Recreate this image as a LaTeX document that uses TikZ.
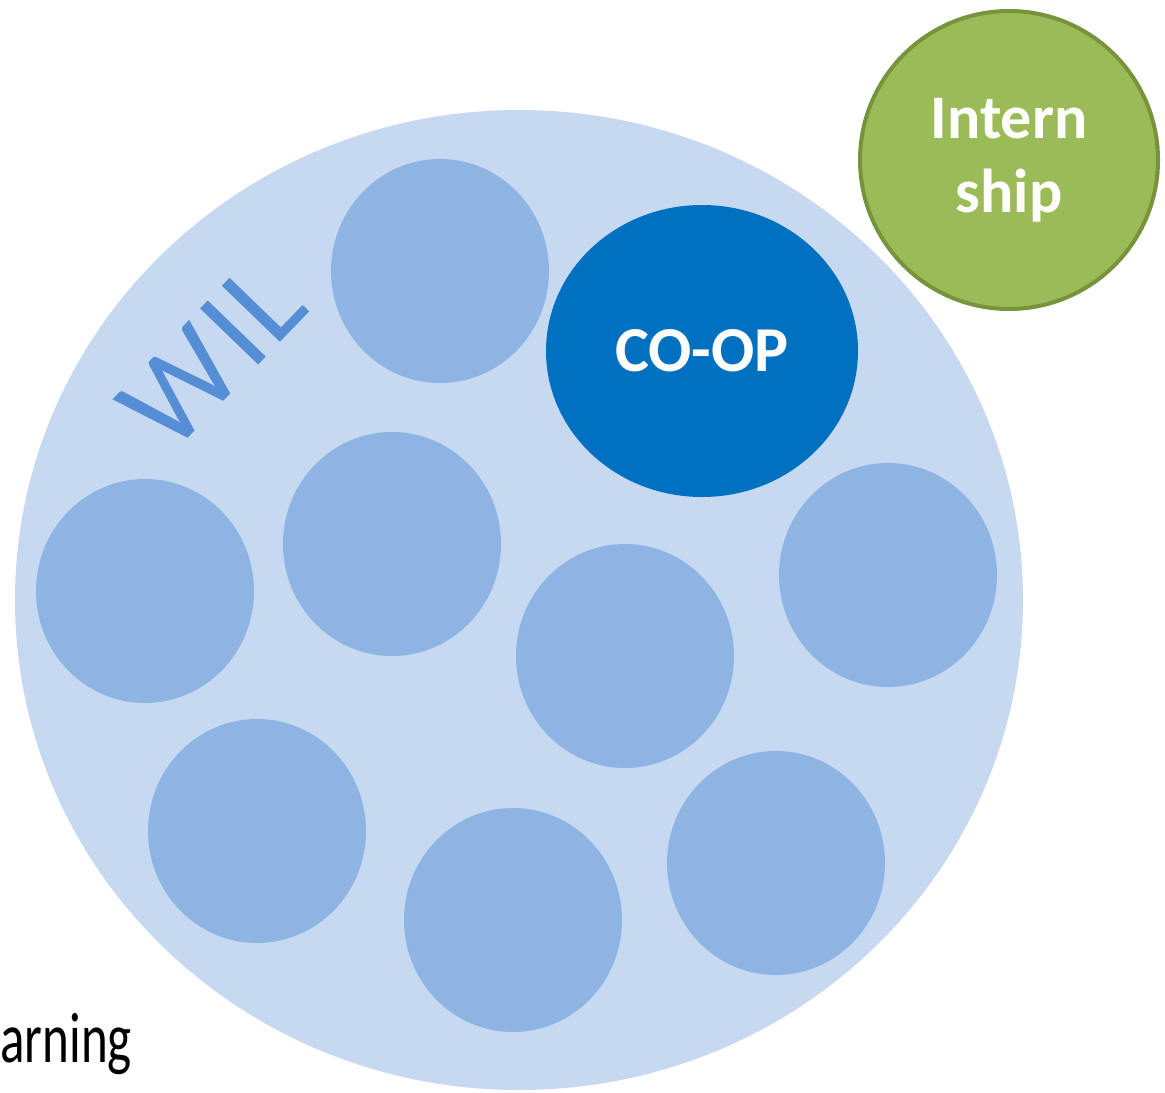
\documentclass[tikz,border=0pt]{standalone}
\usepackage{fontspec}
\setmainfont{Carlito}
\usetikzlibrary{shapes.geometric}
\definecolor{wilback}{HTML}{C6D9F1}
\definecolor{bubblefill}{HTML}{8EB4E3}
\definecolor{coopblue}{HTML}{0070C0}
\definecolor{interngreen}{HTML}{9BBB59}
\definecolor{interndark}{HTML}{77933C}
\definecolor{wiltext}{HTML}{558ED5}

\begin{document}
\begin{tikzpicture}[x=0.5pt, y=-0.5pt, inner sep=0pt,
    bubble/.style = {ellipse, fill=bubblefill, minimum width=109pt, minimum height=112pt},
    main/.style = {ellipse, text=white, font=\bfseries}]
    \useasboundingbox (0,0) rectangle (1165,1092);
    % outer WIL area
    \node[ellipse, fill=wilback, minimum width=504pt, minimum height=490pt] (wil) at (519,600) {};
    \node[text=wiltext, rotate=46, font=\fontsize{63}{63}\selectfont] (wiltitle) at (212,355) {W\kern2pt I\kern1pt L};
    % other programmes
    \node[bubble] (b1) at (440,271) {};
    \node[bubble] (b2) at (392,544) {};
    \node[bubble] (b3) at (145,591) {};
    \node[bubble] (b4) at (625,656) {};
    \node[bubble] (b5) at (888,575) {};
    \node[bubble] (b6) at (257,831) {};
    \node[bubble] (b7) at (513,920) {};
    \node[bubble] (b8) at (776,863) {};
    % co-op and internship
    \node[main, fill=coopblue, minimum width=156pt, minimum height=146pt,
          font=\bfseries\fontsize{32}{32}\selectfont] (coop) at (702,351) {\raisebox{-1.5pt}{CO-OP}};
    \node[main, circle, fill=interngreen, draw=interndark, line width=2pt, minimum size=149pt,
          align=center, font=\bfseries\fontsize{31}{37}\selectfont] (intern) at (1009,160) {\raisebox{-3pt}{Intern}\\\raisebox{-3pt}{ship}};
    \node[anchor=base west, font=\fontsize{34}{34}\selectfont] (learn) at (0,1062) {\scalebox{0.75}[1.05]{arning}};
\end{tikzpicture}
\end{document}
